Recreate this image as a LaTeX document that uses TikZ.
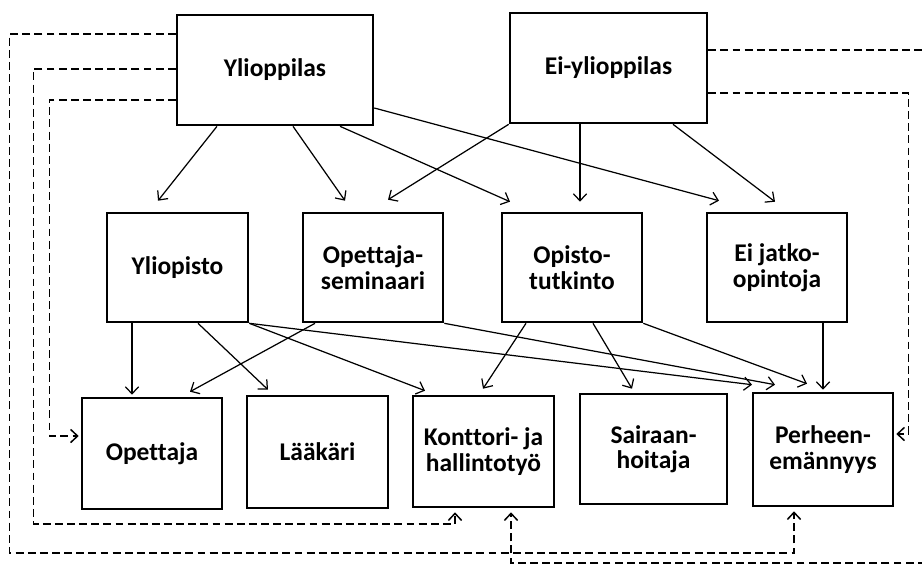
\documentclass[tikz,border=0pt]{standalone}
\usepackage{fontspec}
\setmainfont{Carlito}[Ligatures=NoCommon]
\usepackage{tikz}
\usetikzlibrary{calc}
\usetikzlibrary{arrows.meta}

\begin{document}
\begin{tikzpicture}[x=0.02cm, y=-0.02cm,
        box/.style={draw, line width=1.5pt, align=center, inner sep=0pt,
            font=\fontsize{14.5}{14.5}\selectfont\bfseries},
        link/.style={line width=0.7pt, -{Straight Barb[length=4pt,width=7.5pt]}},
        back/.style={line width=0.85pt, dash pattern=on 4.5pt off 2.4pt,
            -{Straight Barb[length=4pt,width=7.5pt]}}]
        \useasboundingbox (0,0) rectangle (922,565);
        \clip (0,0) rectangle (922,565);

        \node[box, minimum width=3.92cm, minimum height=2.2cm] (ylio) at (275,70) {Ylioppilas};
        \node[box, minimum width=3.94cm, minimum height=2.2cm] (eiylio) at (608.5,68) {Ei-ylioppilas};

        \node[box, minimum width=2.82cm, minimum height=2.18cm] (yliopisto) at (177.5,267.5) {Yliopisto};
        \node[box, minimum width=2.8cm, minimum height=2.18cm] (opsem) at (373,267.5) {Opettaja-\\seminaari};
        \node[box, minimum width=2.8cm, minimum height=2.18cm] (opisto) at (572,267.5) {Opisto-\\tutkinto};
        \node[box, minimum width=2.8cm, minimum height=2.18cm] (eijatko) at (777,267.5) {Ei jatko-\\opintoja};

        \node[box, minimum width=2.8cm, minimum height=2.22cm] (opettaja) at (152,453.5) {Opettaja};
        \node[box, minimum width=2.82cm, minimum height=2.24cm] (laakari) at (317.5,452) {Lääkäri};
        \node[box, minimum width=2.82cm, minimum height=2.22cm] (konttori) at (483.5,451.5) {Konttori- ja\\hallintotyö};
        \node[box, minimum width=2.94cm, minimum height=2.2cm] (sairaan) at (653.5,449) {Sairaan-\\hoitaja};
        \node[box, minimum width=2.8cm, minimum height=2.26cm] (perheen) at (823,449.5) {Perheen-\\emännyys};

        \draw[link] ($(ylio.south)+(-58,0)$) -- ($(yliopisto.north)+(-19.5,-11)$);
        \draw[link] ($(ylio.south)+(18,0)$) -- ($(opsem.north)+(-28,-11)$);
        \draw[link] ($(ylio.south)+(65,0)$) -- ($(opisto.north)+(-62,-10)$);
        \draw[link] ($(ylio.east)+(0,38)$) -- ($(eijatko.north)+(-58,-11)$);
        \draw[link] (eiylio.south west) -- ($(opsem.north)+(15,-12)$);
        \draw[link] ($(eiylio.south)+(-28.5,0)$) -- ($(opisto.north)+(8,-10)$);
        \draw[link] ($(eiylio.south)+(64.5,0)$) -- ($(eijatko.north)+(-2,-10)$);

        \draw[link] ($(yliopisto.south)+(-45.5,0)$) -- ($(opettaja.north)+(-20,-2)$);
        \draw[link] ($(yliopisto.south)+(20.5,0)$) -- ($(laakari.north)+(-49.5,-5)$);
        \draw[link] (yliopisto.south east) -- ($(konttori.north)+(-58.5,-4)$);
        \draw[link] (yliopisto.south east) -- ($(perheen.north)+(-71,-7)$);
        \draw[link] ($(opsem.south)+(-58,0)$) -- ($(opettaja.north)+(38,-5)$);
        \draw[link] (opsem.south east) -- ($(perheen.north)+(-48,-7)$);
        \draw[link] ($(opisto.south)+(-46,0)$) -- ($(konttori.north)+(-0.5,-6)$);
        \draw[link] ($(opisto.south)+(21,0)$) -- ($(sairaan.north)+(-21.5,-4)$);
        \draw[link] (opisto.south east) -- ($(perheen.north)+(-16,-8)$);
        \draw[link] ($(eijatko.south)+(46,0)$) -- ($(perheen.north)+(0,-2)$);

        \draw[back] ($(ylio.west)+(0,-36)$) -- ++(-166,0) -- ++(0,519) -| ($(perheen.south)+(-29,4)$);
        \draw[back] ($(ylio.west)+(0,-1)$) -- ++(-142,0) -- ++(0,455) -| ($(konttori.south)+(-28.5,4)$);
        \draw[back] ($(ylio.west)+(0,30)$) -- ++(-126,0) |- ($(opettaja.west)+(-2,-17.5)$);
        \draw[back] ($(eiylio.east)+(0,-18)$) -- ++(228,0) -- ++(0,513) -| ($(konttori.south)+(27.5,4)$);
        \draw[back] ($(eiylio.east)+(0,25)$) -- ++(200,0) |- ($(perheen.east)+(2,-15.5)$);
    \end{tikzpicture}
\end{document}
